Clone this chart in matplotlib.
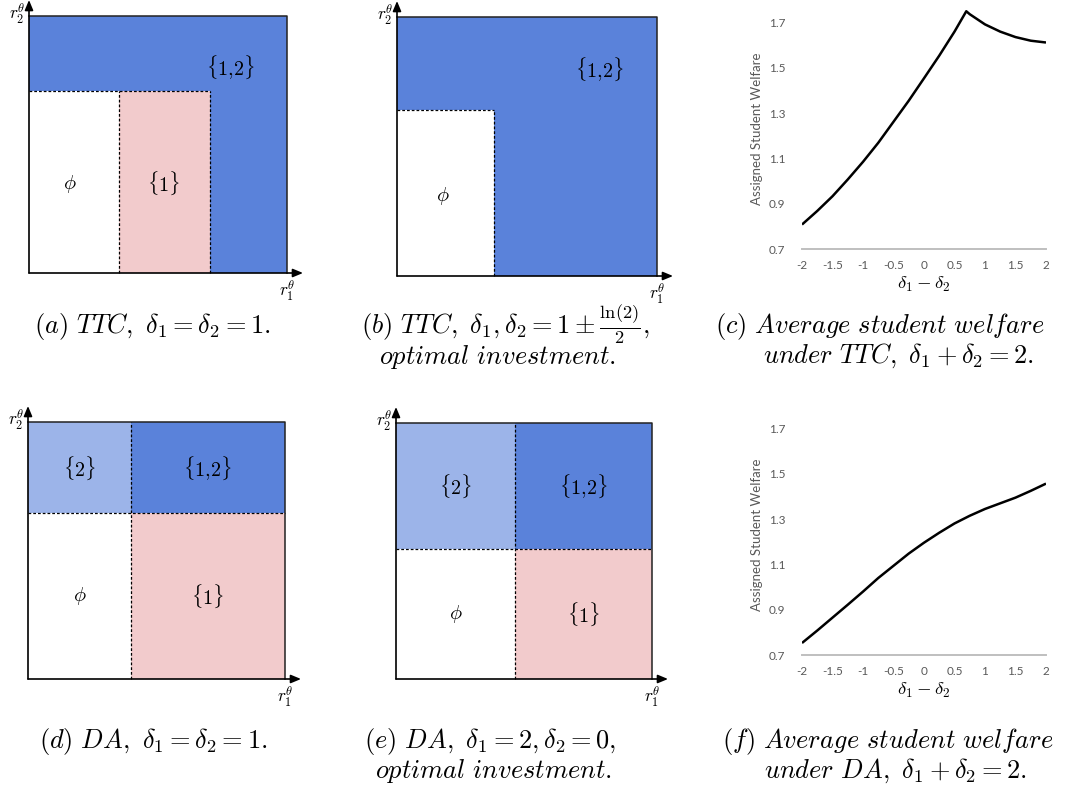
import numpy as np
import matplotlib
matplotlib.use("Agg")
import matplotlib.pyplot as plt
from matplotlib.patches import Rectangle

plt.rcParams.update({
    "font.family": "Lato",
    "mathtext.fontset": "cm",
})

W, H = 1073, 795

# colours of the assignment regions
BLUE = "#5A82DA"
LBLUE = "#9CB4E9"
PINK = "#F2CBCC"
GRAY_TXT = "#595959"

# ── region boundaries (fractions of the unit square) ──────────────────────────
TTC_EQ_X = [0.348, 0.702]    # phi | {1} | {1,2}
TTC_EQ_Y = 0.710
TTC_OPT_X = 0.372
TTC_OPT_Y = 0.640
DA_EQ_X = 0.400
DA_EQ_Y = 0.644
DA_OPT_X = 0.466
DA_OPT_Y = 0.507

# ── welfare curves ────────────────────────────────────────────────────────────
TTC_X = [-2, -1.75, -1.5, -1.25, -1, -0.75, -0.5, -0.25, 0, 0.25, 0.5,
         0.693, 0.75, 1, 1.25, 1.5, 1.75, 2]
TTC_Y = [0.808, 0.868, 0.933, 1.007, 1.085, 1.169, 1.262, 1.355, 1.454,
         1.554, 1.660, 1.750, 1.737, 1.692, 1.660, 1.636, 1.620, 1.612]

DA_X = [-2, -1.75, -1.5, -1.25, -1, -0.75, -0.5, -0.25, 0, 0.25, 0.5,
        0.75, 1, 1.25, 1.5, 1.75, 2]
DA_Y = [0.753, 0.808, 0.865, 0.922, 0.980, 1.040, 1.094, 1.148, 1.196,
        1.240, 1.281, 1.315, 1.345, 1.370, 1.395, 1.425, 1.457]

XTICKS = [-2, -1.5, -1, -0.5, 0, 0.5, 1, 1.5, 2]
YTICKS = [0.7, 0.9, 1.1, 1.3, 1.5, 1.7]

fig = plt.figure(figsize=(W / 100, H / 100), dpi=100)


def px_axes(x0, y0, x1, y1):
    return fig.add_axes([x0 / W, 1 - y1 / H, (x1 - x0) / W, (y1 - y0) / H])


def region_panel(rect, fills, dashes, labels):
    x0, y0, x1, y1 = rect
    ax = px_axes(*rect)
    ax.set_xlim(0, 1)
    ax.set_ylim(0, 1)
    ax.axis("off")
    for fx0, fy0, fx1, fy1, c in fills:
        ax.add_patch(Rectangle((fx0, fy0), fx1 - fx0, fy1 - fy0,
                               facecolor=c, edgecolor="none", zorder=1))
    for xs, ys in dashes:
        ax.plot(xs, ys, color="k", lw=0.9, ls=(0, (2.2, 1.6)), zorder=2,
                clip_on=False)
    ax.plot([0, 1, 1], [1, 1, 0], color="#222222", lw=1.1, zorder=3,
            clip_on=False)
    ext_x = 1 + 16 / (x1 - x0)
    ext_y = 1 + 16 / (y1 - y0)
    aprops = dict(arrowstyle="-|>,head_length=0.6,head_width=0.25",
                  color="k", lw=1.2, shrinkA=0, shrinkB=0)
    ax.annotate("", xy=(ext_x, 0), xytext=(0, 0), arrowprops=aprops,
                annotation_clip=False, zorder=4)
    ax.annotate("", xy=(0, ext_y), xytext=(0, 0), arrowprops=aprops,
                annotation_clip=False, zorder=4)
    ax.text(1, -0.022, r"$r_1^{\theta}$", ha="center", va="top",
            fontsize=12.5, clip_on=False)
    ax.text(-0.012, 1 + 15 / (y1 - y0), r"$r_2^{\theta}$", ha="right",
            va="top", fontsize=12.5, clip_on=False)
    for txt, lx, ly in labels:
        ax.text(lx, ly, txt, ha="center", va="center", fontsize=14.5, zorder=5)
    return ax


S12 = r"$\{1{,}2\}$"

# (a) TTC, equal investment
xa1, xa2 = TTC_EQ_X
region_panel(
    (29, 16, 287, 273),
    [(0, 0, 1, 1, BLUE), (0, 0, xa1, TTC_EQ_Y, "white"),
     (xa1, 0, xa2, TTC_EQ_Y, PINK)],
    [([xa1, xa1], [0, TTC_EQ_Y]), ([xa2, xa2], [0, TTC_EQ_Y]),
     ([0, xa2], [TTC_EQ_Y, TTC_EQ_Y])],
    [(S12, 0.78, 0.80), (r"$\{1\}$", 0.52, 0.35),
     (r"$\phi$", 0.16, 0.345)])

# (b) TTC, optimal investment
region_panel(
    (397, 17, 657, 276),
    [(0, 0, 1, 1, BLUE), (0, 0, TTC_OPT_X, TTC_OPT_Y, "white")],
    [([TTC_OPT_X, TTC_OPT_X], [0, TTC_OPT_Y]),
     ([0, TTC_OPT_X], [TTC_OPT_Y, TTC_OPT_Y])],
    [(S12, 0.78, 0.80), (r"$\phi$", 0.175, 0.31)])

# (d) DA, equal investment
region_panel(
    (28, 422, 285, 679),
    [(0, 0, DA_EQ_X, DA_EQ_Y, "white"), (DA_EQ_X, 0, 1, DA_EQ_Y, PINK),
     (0, DA_EQ_Y, DA_EQ_X, 1, LBLUE), (DA_EQ_X, DA_EQ_Y, 1, 1, BLUE)],
    [([DA_EQ_X, DA_EQ_X], [0, 1]), ([0, 1], [DA_EQ_Y, DA_EQ_Y])],
    [(r"$\{2\}$", DA_EQ_X / 2, (1 + DA_EQ_Y) / 2),
     (S12, (1 + DA_EQ_X) / 2, (1 + DA_EQ_Y) / 2),
     (r"$\phi$", DA_EQ_X / 2, DA_EQ_Y / 2),
     (r"$\{1\}$", (1 + DA_EQ_X) / 2, DA_EQ_Y / 2)])

# (e) DA, optimal investment
region_panel(
    (396, 423, 652, 679),
    [(0, 0, DA_OPT_X, DA_OPT_Y, "white"), (DA_OPT_X, 0, 1, DA_OPT_Y, PINK),
     (0, DA_OPT_Y, DA_OPT_X, 1, LBLUE), (DA_OPT_X, DA_OPT_Y, 1, 1, BLUE)],
    [([DA_OPT_X, DA_OPT_X], [0, 1]), ([0, 1], [DA_OPT_Y, DA_OPT_Y])],
    [(r"$\{2\}$", DA_OPT_X / 2, (1 + DA_OPT_Y) / 2),
     (S12, (1 + DA_OPT_X) / 2, (1 + DA_OPT_Y) / 2),
     (r"$\phi$", DA_OPT_X / 2, DA_OPT_Y / 2),
     (r"$\{1\}$", (1 + DA_OPT_X) / 2, DA_OPT_Y / 2)])


def welfare_panel(rect, x, y):
    ax = px_axes(*rect)
    ax.plot(x, y, color="black", lw=1.8, solid_capstyle="butt")
    ax.set_xlim(-2, 2)
    ax.set_ylim(0.7, 1.76)
    for s in ["top", "right", "left"]:
        ax.spines[s].set_visible(False)
    ax.spines["bottom"].set_color("#BFBFBF")
    ax.spines["bottom"].set_linewidth(1.4)
    ax.set_xticks(XTICKS, labels=[f"{t:g}" for t in XTICKS])
    ax.set_yticks(YTICKS, labels=[f"{t:.1f}" for t in YTICKS])
    ax.tick_params(length=0, labelsize=8.5, labelcolor=GRAY_TXT)
    ax.tick_params(axis="y", pad=12)
    ax.tick_params(axis="x", pad=8)
    ax.set_ylabel("Assigned Student Welfare", fontsize=9.5, color=GRAY_TXT)
    ax.yaxis.label.set_va("center")
    ax.yaxis.label.set_ha("center")
    ax.yaxis.set_label_coords(-0.184, 0.5)
    ax.set_xlabel(r"$\delta_1-\delta_2$", fontsize=13.5)
    ax.xaxis.set_label_coords(0.5, -0.148)
    ax.xaxis.label.set_va("center")
    return ax


welfare_panel((802, 9, 1046, 249), TTC_X, TTC_Y)
welfare_panel((802, 415, 1046, 655), DA_X, DA_Y)

# ── captions ──────────────────────────────────────────────────────────────────
CAP = 19
captions = [
    (r"$(a)\ \mathit{TTC},\ \delta_1=\delta_2=1.$", 152, 333),
    (r"$(b)\ \mathit{TTC},\ \delta_1,\delta_2=1\pm\frac{\ln(2)}{2},$", 505, 333),
    (r"$\mathit{optimal\ investment.}$", 498, 364),
    (r"$(c)\ \mathit{Average\ student\ welfare}$", 880, 333),
    (r"$\mathit{under\ TTC},\ \delta_1+\delta_2=2.$", 898, 363),
    (r"$(d)\ \mathit{DA},\ \delta_1=\delta_2=1.$", 153, 748),
    (r"$(e)\ \mathit{DA},\ \delta_1=2,\delta_2=0,$", 490, 748),
    (r"$\mathit{optimal\ investment.}$", 494, 778),
    (r"$(f)\ \mathit{Average\ student\ welfare}$", 888, 748),
    (r"$\mathit{under\ DA},\ \delta_1+\delta_2=2.$", 895, 778),
]
for txt, cx, cy in captions:
    fig.text(cx / W, 1 - cy / H, txt, ha="center", va="baseline", fontsize=CAP)

fig.savefig("out.png", dpi=100)
